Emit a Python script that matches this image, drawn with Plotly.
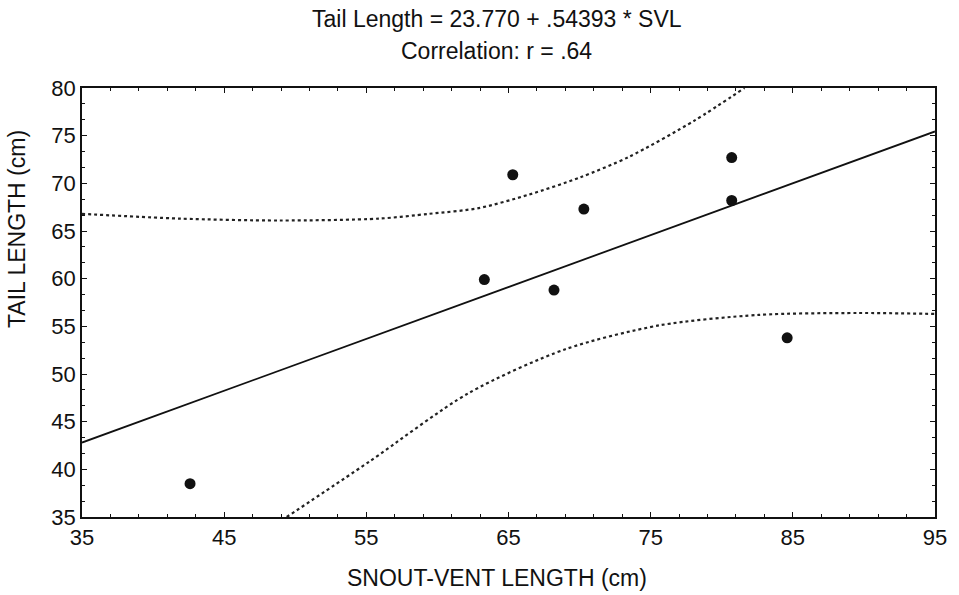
import plotly.graph_objects as go

# Observed specimens: snout-vent length vs tail length (cm)
svl = [42.6, 63.3, 65.3, 68.2, 70.3, 80.7, 80.7, 84.6]
tail = [38.5, 59.9, 70.9, 58.8, 67.3, 72.7, 68.2, 53.8]

# Fitted regression coefficients
intercept = 23.770
slope = 0.54393
fit_x = [35, 95]

# 95% confidence limits around the fitted line
upper_x = [35, 41.9, 48.9, 55.9, 59.4, 62.9, 66.4, 70.0, 73.5, 78.1, 81.6]
upper_y = [66.8, 66.3, 66.1, 66.3, 66.8, 67.4, 68.8, 70.6, 72.8, 76.6, 80.0]
lower_x = [49.4, 55.2, 62.2, 69.0, 75.6, 82.6, 89.6, 95.0]
lower_y = [35.0, 40.8, 48.0, 52.6, 55.1, 56.2, 56.4, 56.3]

x_ticks = [35, 45, 55, 65, 75, 85, 95]
y_ticks = [35, 40, 45, 50, 55, 60, 65, 70, 75, 80]

FONT = "Liberation Sans, Arial, Helvetica, sans-serif"
INK = "#111111"

fig = go.Figure()

fig.add_trace(go.Scatter(
    x=upper_x, y=upper_y, mode="lines", line_shape="spline",
    line=dict(color="#222222", width=2.2, dash="dot", smoothing=0.8), hoverinfo="skip",
))
fig.add_trace(go.Scatter(
    x=lower_x, y=lower_y, mode="lines", line_shape="spline",
    line=dict(color="#222222", width=2.2, dash="dot", smoothing=0.8), hoverinfo="skip",
))
fig.add_trace(go.Scatter(
    x=fit_x, y=[intercept + slope * v for v in fit_x], mode="lines",
    line=dict(color=INK, width=1.8),
))
fig.add_trace(go.Scatter(
    x=svl, y=tail, mode="markers",
    marker=dict(color=INK, size=11, line=dict(width=0)),
))

axis_common = dict(
    showline=True, linecolor=INK, linewidth=1.8, mirror="allticks",
    ticks="inside", ticklen=5, tickwidth=1.3, tickcolor=INK,
    showgrid=False, zeroline=False,
    tickfont=dict(family=FONT, size=22, color=INK),
)

fig.update_xaxes(
    range=[35, 95], tickvals=x_ticks,
    minor=dict(dtick=2, tick0=35, ticks="inside", ticklen=3, tickcolor=INK, showgrid=False),
    **axis_common,
)
fig.update_yaxes(
    range=[35, 80], tickvals=y_ticks,
    minor=dict(dtick=5 / 3, tick0=35, ticks="inside", ticklen=3, tickcolor=INK, showgrid=False),
    **axis_common,
)

title_font = dict(family=FONT, size=23, color=INK)
fig.update_layout(
    width=959, height=595,
    margin=dict(l=82, r=22, t=88, b=78),
    paper_bgcolor="white", plot_bgcolor="white",
    showlegend=False,
    annotations=[
        dict(text="Tail Length = 23.770 + .54393 * SVL", xref="paper", yref="paper",
             x=0.4865, y=1.162, xanchor="center", yanchor="middle", showarrow=False,
             font=title_font),
        dict(text="Correlation: r = .64", xref="paper", yref="paper",
             x=0.4865, y=1.086, xanchor="center", yanchor="middle", showarrow=False,
             font=title_font),
        dict(text="SNOUT-VENT LENGTH (cm)", xref="paper", yref="paper",
             x=0.4865, y=-0.142, xanchor="center", yanchor="middle", showarrow=False,
             font=title_font),
        dict(text="TAIL LENGTH (cm)", xref="paper", yref="paper",
             x=-0.0764, y=0.671, xanchor="center", yanchor="middle", showarrow=False,
             textangle=-90, font=title_font),
    ],
)

fig.write_html("out.html")
